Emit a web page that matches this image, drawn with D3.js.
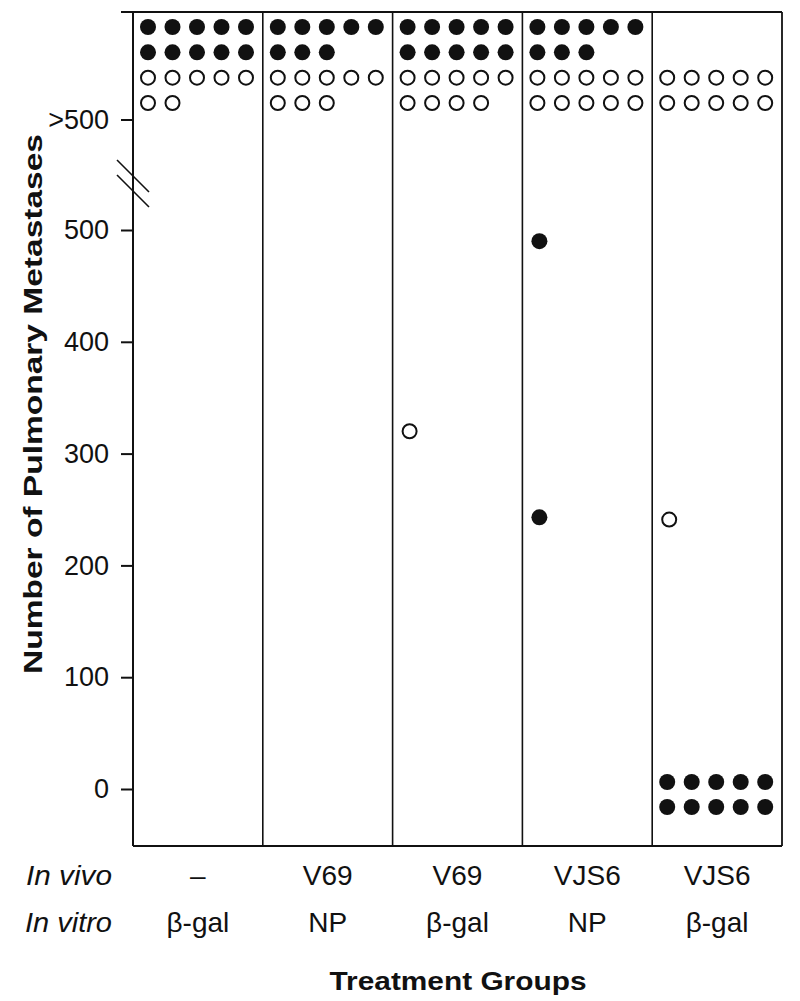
<!DOCTYPE html>
<html>
<head>
<meta charset="utf-8">
<script src="https://cdn.jsdelivr.net/npm/d3@7"></script>
<style>
  body { margin: 0; background: #fff; }
  svg text { font-family: "Liberation Sans", Arial, sans-serif; fill: #111; }
</style>
</head>
<body>
<svg id="chart"></svg>
<script>
// Data
const groups = ["A", "B", "C", "D", "E"];
const inVivo = ["–", "V69", "V69", "VJS6", "VJS6"];
const inVitro = ["β-gal", "NP", "β-gal", "NP", "β-gal"];
const yTicks = [0, 100, 200, 300, 400, 500];

// mice with >500 metastases, per group
const overFilled = [10, 8, 10, 8, 0];
const overOpen = [7, 8, 9, 10, 10];

// mice with a countable number of metastases
const ptGroup = ["C", "D", "D", "E", "E", "E", "E", "E", "E", "E", "E", "E", "E", "E"];
const ptValue = [320, 490, 243, 241, 0, 0, 0, 0, 0, 0, 0, 0, 0, 0];
const ptFilled = [false, true, true, false, true, true, true, true, true, true, true, true, true, true];

// Layout
const width = 800, height = 1001;
const plotLeft = 133, plotRight = 782, plotTop = 12, plotBottom = 846;
const r = 8;

const svg = d3.select("#chart")
  .attr("width", width)
  .attr("height", height);

const x = d3.scaleBand()
  .domain(groups)
  .range([plotLeft, plotRight])
  .paddingInner(0);

// column of a dot inside a group
const col = d3.scalePoint()
  .domain([0, 1, 2, 3, 4])
  .range([15, 113]);

const y = d3.scaleLinear()
  .domain([0, 500])
  .range([789, 230]);

// rows in the ">500" section
const overRow = d3.scalePoint()
  .domain([0, 1, 2, 3])
  .range([27, 103]);

const overY = 120;

// Frame
const frame = svg.append("g").attr("stroke", "#111").attr("fill", "none");
frame.append("line").attr("x1", plotLeft - 12).attr("x2", plotRight).attr("y1", plotTop).attr("y2", plotTop).attr("stroke-width", 2);
frame.append("line").attr("x1", plotLeft).attr("x2", plotRight).attr("y1", plotBottom).attr("y2", plotBottom).attr("stroke-width", 2);
frame.append("line").attr("x1", plotLeft).attr("x2", plotLeft).attr("y1", plotTop).attr("y2", plotBottom).attr("stroke-width", 2);
frame.append("line").attr("x1", plotRight).attr("x2", plotRight).attr("y1", plotTop).attr("y2", plotBottom).attr("stroke-width", 1.8);

// Group dividers
frame.selectAll(".divider")
  .data(groups.slice(1))
  .enter().append("line")
  .attr("class", "divider")
  .attr("x1", d => x(d)).attr("x2", d => x(d))
  .attr("y1", plotTop).attr("y2", plotBottom)
  .attr("stroke-width", 1.6);

// Y axis ticks
const yAxis = d3.axisLeft(y)
  .tickValues(yTicks)
  .tickSize(12)
  .tickPadding(12);

const ax = svg.append("g")
  .attr("transform", `translate(${plotLeft},0)`)
  .call(yAxis);
ax.select(".domain").remove();
ax.selectAll(".tick line").attr("stroke", "#111").attr("stroke-width", 2);
ax.selectAll(".tick text")
  .style("font-size", "27px")
  .attr("fill", "#111");

// ">500" tick
svg.append("line")
  .attr("x1", plotLeft - 12).attr("x2", plotLeft)
  .attr("y1", overY).attr("y2", overY)
  .attr("stroke", "#111").attr("stroke-width", 2);
svg.append("text")
  .attr("x", plotLeft - 24).attr("y", overY)
  .attr("dy", "0.35em")
  .attr("text-anchor", "end")
  .style("font-size", "27px")
  .text(">500");

// Axis break marks
svg.append("g")
  .attr("stroke", "#111").attr("stroke-width", 1.6)
  .selectAll("line")
  .data([0, 15])
  .enter().append("line")
  .attr("x1", 117).attr("y1", d => 160 + d)
  .attr("x2", 149).attr("y2", d => 192 + d);

// Dots in the ">500" section
const overDots = [];
groups.forEach((g, i) => {
  for (let k = 0; k < overFilled[i]; k++) {
    overDots.push({ g, c: k % 5, row: Math.floor(k / 5), filled: true });
  }
  for (let k = 0; k < overOpen[i]; k++) {
    overDots.push({ g, c: k % 5, row: 2 + Math.floor(k / 5), filled: false });
  }
});

// Countable dots, stacked in rows of five when they share a value
const ptDots = [];
const seen = {};
ptValue.forEach((v, i) => {
  const key = ptGroup[i] + "_" + v;
  const n = seen[key] || 0;
  seen[key] = n + 1;
  ptDots.push({ g: ptGroup[i], v, filled: ptFilled[i], c: n % 5, row: Math.floor(n / 5), stacked: v === 0 });
});

const dotG = svg.append("g");

dotG.selectAll(".over")
  .data(overDots)
  .enter().append("circle")
  .attr("class", "over")
  .attr("cx", d => x(d.g) + col(d.c))
  .attr("cy", d => overRow(d.row))
  .attr("r", d => d.filled ? r : r - 1)
  .attr("fill", d => d.filled ? "#111" : "#fff")
  .attr("stroke", "#111")
  .attr("stroke-width", d => d.filled ? 0 : 2);

dotG.selectAll(".pt")
  .data(ptDots)
  .enter().append("circle")
  .attr("class", "pt")
  .attr("cx", d => x(d.g) + col(d.c) + (d.stacked ? 0 : 2))
  .attr("cy", d => d.stacked ? y(d.v) - 7 + d.row * 25 : y(d.v))
  .attr("r", d => d.filled ? r : r - 1)
  .attr("fill", d => d.filled ? "#111" : "#fff")
  .attr("stroke", "#111")
  .attr("stroke-width", d => d.filled ? 0 : 2);

// Category labels
const labG = svg.append("g").style("font-size", "28px");
labG.append("text")
  .attr("x", 112).attr("y", 885)
  .attr("text-anchor", "end")
  .attr("textLength", 86)
  .attr("lengthAdjust", "spacingAndGlyphs")
  .style("font-style", "italic")
  .text("In vivo");
labG.append("text")
  .attr("x", 112).attr("y", 932)
  .attr("text-anchor", "end")
  .attr("textLength", 87)
  .attr("lengthAdjust", "spacingAndGlyphs")
  .style("font-style", "italic")
  .text("In vitro");

labG.selectAll(".vivo")
  .data(groups)
  .enter().append("text")
  .attr("class", "vivo")
  .attr("x", d => x(d) + x.bandwidth() / 2)
  .attr("y", 885)
  .attr("text-anchor", "middle")
  .text((d, i) => inVivo[i]);

labG.selectAll(".vitro")
  .data(groups)
  .enter().append("text")
  .attr("class", "vitro")
  .attr("x", d => x(d) + x.bandwidth() / 2)
  .attr("y", 932)
  .attr("text-anchor", "middle")
  .text((d, i) => inVitro[i]);

// Axis titles
svg.append("text")
  .attr("x", 458)
  .attr("y", 990)
  .attr("text-anchor", "middle")
  .attr("textLength", 257)
  .attr("lengthAdjust", "spacingAndGlyphs")
  .style("font-size", "25px")
  .style("font-weight", "bold")
  .text("Treatment Groups");

svg.append("text")
  .attr("transform", "translate(42,404) rotate(-90)")
  .attr("text-anchor", "middle")
  .attr("textLength", 540)
  .attr("lengthAdjust", "spacingAndGlyphs")
  .style("font-size", "25px")
  .style("font-weight", "bold")
  .text("Number of Pulmonary Metastases");
</script>
</body>
</html>
